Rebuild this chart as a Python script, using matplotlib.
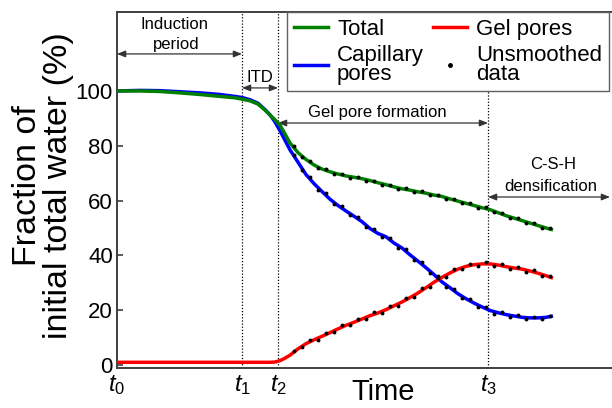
import matplotlib
matplotlib.use("Agg")
import matplotlib.pyplot as plt
from matplotlib.lines import Line2D

plt.rcParams['font.family'] = ['Liberation Sans', 'DejaVu Sans']
plt.rcParams['mathtext.fontset'] = 'custom'
plt.rcParams['mathtext.it'] = 'Liberation Sans:italic'
plt.rcParams['mathtext.rm'] = 'Liberation Sans'

# ---- data (time in arbitrary units, t0 = 0) ----
t_marks = [0, 125, 161, 371]
t_labels = [r'$t_{\mathrm{0}}$', r'$t_{\mathrm{1}}$', r'$t_{\mathrm{2}}$', r'$t_{\mathrm{3}}$']

time_smooth = [0, 23, 43, 63, 83, 103, 118, 125, 133, 141, 148, 153, 158, 163, 168,
               173, 181, 189, 197, 205, 213, 221, 229, 237, 245, 253, 261, 269, 277,
               285, 293, 301, 309, 317, 325, 333, 341, 349, 357, 365, 373, 381, 389,
               397, 405, 413, 421, 429, 436]

total_smooth = [100, 100, 99.8, 99.3, 98.7, 98.0, 97.5, 97.0, 96.4, 95.2, 93.0, 91.2, 89.5, 87.5, 84.3,
                81, 77.5, 75, 73, 71.5, 70.5, 69.7, 69, 68.5, 68, 67.3, 66.5, 65.8, 65,
                64.3, 63.8, 63.2, 62.7, 62, 61.5, 60.6, 59.8, 59, 58.2, 57.4, 56.7, 55.6, 54.5,
                53.6, 52.7, 51.8, 50.9, 50, 49.3]

capillary_smooth = [100, 100.2, 100.1, 99.7, 99.3, 98.7, 98.0, 97.6, 96.8, 95.5, 93.2, 91.3, 88.7, 85.5, 82.0,
                    78.5, 74, 69.5, 66.2, 63.3, 60.5, 58.2, 56.2, 54.3, 52.3, 49.8, 48, 46.8, 44.5,
                    42.7, 40.2, 37.9, 35.5, 33, 30.3, 28.2, 26, 24.2, 22.6, 21.2, 19.9, 19.1, 18.4,
                    17.9, 17.4, 17.2, 17.2, 17.4, 17.9]

gel_smooth = [1, 1, 1, 1, 1, 1, 1, 1, 1, 1, 1, 1, 1.1, 1.6, 2.5,
              3.6, 5.9, 7.8, 9.2, 10.5, 11.8, 13.2, 14.5, 15.6, 16.8, 18, 19, 20.2, 21.6,
              23, 24.6, 26.3, 28.2, 30.2, 32, 33.6, 35, 36, 36.6, 36.9, 36.9, 36.5, 35.9,
              35.4, 35, 34.3, 33.5, 32.6, 31.7]

time_raw = [177, 185, 193, 201, 209, 217, 225, 233, 241, 249, 257, 265, 273, 281, 289, 297,
            305, 313, 321, 329, 337, 345, 353, 361, 369, 377, 385, 393, 401, 409, 417, 425, 433]

total_raw = [79.8, 75.8, 74.5, 71.9, 71.4, 69.7, 69.8, 68.4, 68.7, 67.3, 67.3, 65.8, 65.8, 64.3,
             64.5, 63.1, 63.4, 62.0, 62.2, 60.7, 60.6, 59.0, 59.0, 57.4, 57.5, 55.8, 55.5, 53.7,
             53.6, 51.9, 51.8, 50.1, 49.9]

capillary_raw = [76.8, 71.0, 68.6, 64.0, 62.7, 58.6, 58.1, 54.6, 53.9, 50.2, 49.8, 46.6, 46.5, 42.8,
                 42.2, 38.2, 37.5, 33.5, 32.4, 28.5, 27.9, 24.3, 24.0, 21.2, 21.3, 18.8, 19.4, 17.5,
                 18.2, 16.7, 17.7, 16.8, 18.0]

gel_raw = [5.3, 6.4, 9.1, 9.3, 11.8, 12.0, 14.6, 14.5, 16.9, 16.8, 19.2, 19.0, 21.6, 21.6,
           24.5, 24.8, 28.0, 28.4, 31.8, 32.1, 35.0, 34.9, 37.0, 36.2, 37.5, 36.1, 36.8, 35.1,
           35.8, 34.1, 34.5, 32.5, 32.6]

y_ticks = [0, 20, 40, 60, 80, 100]

# ---- figure ----
W, H = 612, 408
fig = plt.figure(figsize=(W / 100, H / 100), dpi=100)
ax_left, ax_right, ax_top, ax_bottom = 117, 620, 12, 367.5
ax = fig.add_axes([ax_left / W, 1 - ax_bottom / H, (ax_right - ax_left) / W, (ax_bottom - ax_top) / H])
ax.set_xlim(0, 503)
ax.set_ylim(-0.9, 128.8)

spine_col = '#404040'
for s in ['left', 'bottom', 'top']:
    ax.spines[s].set_color(spine_col)
    ax.spines[s].set_linewidth(1.4)
ax.spines['right'].set_visible(False)

# phase boundaries
for tm in t_marks[1:]:
    ax.axvline(tm, color='black', linestyle=(0, (1, 1.5)), lw=0.9, zorder=1)

ax.plot(time_smooth, capillary_smooth, color='#0000ff', lw=2.5, zorder=3, solid_capstyle='butt')
ax.plot(time_smooth, total_smooth, color='#008000', lw=2.5, zorder=4, solid_capstyle='butt')
ax.plot(time_smooth, gel_smooth, color='#ff0000', lw=2.5, zorder=5, solid_capstyle='butt')
for raw in (total_raw, capillary_raw, gel_raw):
    ax.plot(time_raw, raw, linestyle='none', marker='o', ms=1.8, color='black', zorder=6)

ax.set_yticks(y_ticks)
ax.set_yticklabels([str(v) for v in y_ticks], fontsize=16)
ax.tick_params(axis='y', direction='in', length=4, width=1.2, color=spine_col, pad=3)
ax.set_xticks(t_marks)
ax.set_xticklabels(t_labels, fontsize=17)
ax.tick_params(axis='x', length=0, pad=4)

# phase annotations
arrow_kw = dict(arrowstyle='<|-|>,head_length=0.5,head_width=0.2', color='#333333', lw=0.9,
                shrinkA=0, shrinkB=0)
fs_ann = 12
ax.annotate('', xy=(0, 113.5), xytext=(125, 113.5), arrowprops=arrow_kw)
ax.text(58, 124.1, 'Induction', ha='center', va='center', fontsize=fs_ann)
ax.text(59, 116.8, 'period', ha='center', va='center', fontsize=fs_ann)

ax.annotate('', xy=(125, 101.1), xytext=(161, 101.1), arrowprops=arrow_kw)
ax.text(143, 104.9, 'ITD', ha='center', va='center', fontsize=fs_ann)

ax.annotate('', xy=(161, 88.3), xytext=(371, 88.3), arrowprops=arrow_kw)
ax.text(260, 92.2, 'Gel pore formation', ha='center', va='center', fontsize=fs_ann)

ax.annotate('', xy=(371, 61.3), xytext=(493, 61.3), arrowprops=arrow_kw)
ax.text(436, 73.0, 'C-S-H', ha='center', va='center', fontsize=fs_ann)
ax.text(434, 65.0, 'densification', ha='center', va='center', fontsize=fs_ann)

# legend
handles = [Line2D([], [], color='#008000', lw=2.5),
           Line2D([], [], color='#0000ff', lw=2.5),
           Line2D([], [], color='#ff0000', lw=2.5),
           Line2D([], [], linestyle='none', marker='o', ms=2.5, color='black')]
labels = ['Total', 'Capillary\npores', 'Gel pores', 'Unsmoothed\ndata']
leg = ax.legend(handles, labels, ncol=2, loc='upper left',
                bbox_to_anchor=((287 - ax_left) / (ax_right - ax_left), 1.0),
                borderaxespad=0, fontsize=16, handlelength=1.55, handletextpad=0.4,
                columnspacing=0.4, labelspacing=0.25, borderpad=0.3,
                fancybox=False, framealpha=1, edgecolor='#606060')
leg.get_frame().set_linewidth(1.0)
leg.set_zorder(10)
for t in leg.get_texts():
    t.set_linespacing(0.85)

# axis titles
fig.text(28 / W, 1 - 186 / H, 'Fraction of', rotation=90, ha='center', va='center', fontsize=24.5)
fig.text(59 / W, 1 - 186 / H, 'initial total water (%)', rotation=90, ha='center', va='center',
         fontsize=24.5)
fig.text(383 / W, 1 - 400 / H, 'Time', ha='center', va='baseline', fontsize=21)

fig.savefig('out.png', dpi=100)
